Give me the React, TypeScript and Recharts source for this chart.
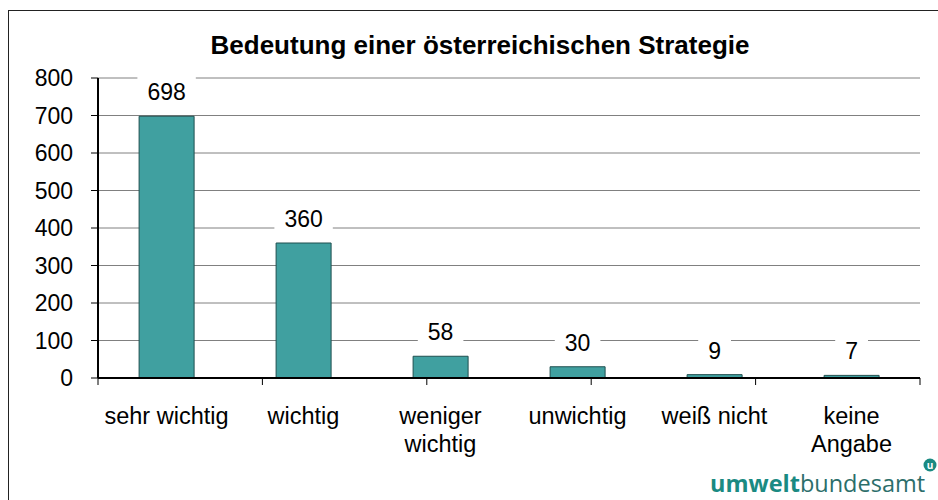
import React from "react";
import {
  BarChart,
  Bar,
  XAxis,
  YAxis,
  CartesianGrid,
  LabelList,
} from "recharts";

// ─── Data ─────────────────────────────────────────────────────────────────────
const categories = [
  "sehr wichtig",
  "wichtig",
  "weniger\nwichtig",
  "unwichtig",
  "weiß nicht",
  "keine\nAngabe",
];
const counts = [698, 360, 58, 30, 9, 7];
const yTicks = [0, 100, 200, 300, 400, 500, 600, 700, 800];
const edgeTicks = [0, 1, 2, 3, 4, 5, 6];

const data = categories.map((name, i) => ({ name, value: counts[i] }));

const FONT = '"Liberation Sans", Arial, sans-serif';
const TEAL = "#40A0A0";

// ─── Value label with white box ───────────────────────────────────────────────
function ValueLabel(props: any) {
  const { x, y, width, value } = props;
  const cx = x + width / 2;
  const cy = y - 24;
  const w = String(value).length * 12.8 + 20;
  return (
    <g>
      <rect x={cx - w / 2} y={cy - 16} width={w} height={31} fill="#fff" />
      <text
        x={cx}
        y={cy}
        dy={8}
        textAnchor="middle"
        fontFamily={FONT}
        fontSize={23}
        fill="#000"
      >
        {value}
      </text>
    </g>
  );
}

// ─── Category tick (multi-line) ───────────────────────────────────────────────
function CategoryTick(props: any) {
  const { x, y, payload } = props;
  const lines = String(payload.value).split("\n");
  return (
    <text
      x={x}
      y={y}
      textAnchor="middle"
      fontFamily={FONT}
      fontSize={23.5}
      fill="#000"
    >
      {lines.map((l, i) => (
        <tspan key={i} x={x} dy={i === 0 ? 28 : 28}>
          {l}
        </tspan>
      ))}
    </text>
  );
}

// ─── Component ────────────────────────────────────────────────────────────────
export default function App() {
  return (
    <div
      style={{
        position: "fixed",
        left: 0,
        top: 0,
        width: 938,
        height: 500,
        background: "#fff",
        overflow: "hidden",
      }}
    >
      {/* outer frame */}
      <div
        style={{
          position: "absolute",
          left: 8,
          top: 10,
          width: 960,
          height: 520,
          borderLeft: "1.5px solid #222",
          borderTop: "1.5px solid #222",
        }}
      />

      <div style={{ position: "absolute", left: 0, top: 0 }}>
        <BarChart
          width={938}
          height={500}
          data={data}
          margin={{ top: 78, right: 18, left: 8, bottom: 22 }}
          barCategoryGap="30%"
        >
          <CartesianGrid
            xAxisId="b"
            yAxisId="left"
            vertical={false}
            stroke="#808080"
            strokeWidth={1}
          />
          <XAxis
            xAxisId="top"
            orientation="top"
            type="number"
            domain={[0, 6]}
            height={0}
            tick={false}
            tickLine={false}
            axisLine={{ stroke: "#000", strokeWidth: 1.5 }}
          />
          <XAxis
            xAxisId="b"
            dataKey="name"
            height={90}
            axisLine={false}
            tickLine={false}
            interval={0}
            tick={<CategoryTick />}
          />
          <XAxis
            xAxisId="a"
            type="number"
            domain={[0, 6]}
            ticks={edgeTicks}
            height={10}
            tickSize={7}
            tickFormatter={() => ""}
            tickLine={{ stroke: "#000", strokeWidth: 1 }}
            axisLine={{ stroke: "#000", strokeWidth: 2 }}
          />
          <YAxis
            yAxisId="left"
            domain={[0, 800]}
            ticks={yTicks}
            width={90}
            tickSize={7}
            tickMargin={18}
            tickLine={{ stroke: "#000", strokeWidth: 1 }}
            axisLine={{ stroke: "#000", strokeWidth: 2 }}
            tick={{ fill: "#000", fontSize: 23, fontFamily: FONT }}
          />
          <YAxis
            yAxisId="right"
            orientation="right"
            domain={[0, 800]}
            width={0}
            tick={false}
            tickLine={false}
            axisLine={{ stroke: "#000", strokeWidth: 2 }}
          />
          <Bar
            xAxisId="b"
            yAxisId="left"
            dataKey="value"
            fill={TEAL}
            stroke="#1F4F4F"
            strokeWidth={1}
            isAnimationActive={false}
          >
            <LabelList dataKey="value" content={<ValueLabel />} />
          </Bar>
        </BarChart>
      </div>

      {/* title + logo */}
      <svg
        width={938}
        height={500}
        style={{ position: "absolute", left: 0, top: 0, pointerEvents: "none" }}
      >
        <text
          x={480}
          y={54}
          textAnchor="middle"
          fontFamily={FONT}
          fontWeight="bold"
          fontSize={26}
          fill="#000"
        >
          Bedeutung einer österreichischen Strategie
        </text>
        <text x={710} y={492} fontFamily='"Open Sans", sans-serif' fontSize={23.5}>
          <tspan fontWeight="bold" fill="#1A8A82">
            umwelt
          </tspan>
          <tspan fill="#2C6E6A">bundesamt</tspan>
        </text>
        <circle cx={930} cy={465} r={6.5} fill="#1A8A82" />
        <text
          x={930}
          y={469}
          textAnchor="middle"
          fontFamily='"Open Sans", sans-serif'
          fontWeight="bold"
          fontSize={10}
          fill="#fff"
        >
          u
        </text>
      </svg>
    </div>
  );
}
